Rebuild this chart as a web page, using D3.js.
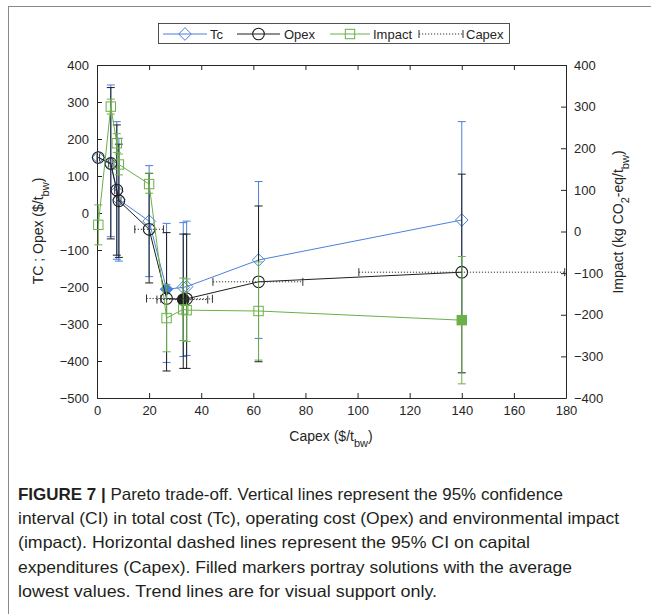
<!DOCTYPE html>
<html>
<head>
<meta charset="utf-8">
<script src="https://cdn.jsdelivr.net/npm/d3@7/dist/d3.min.js"></script>
<style>
  html, body { margin: 0; padding: 0; background: #fff; }
  svg { display: block; }
  text { font-family: "Liberation Sans", Arial, Helvetica, sans-serif; }
</style>
</head>
<body>
<svg id="fig" width="651" height="614"></svg>
<script>
// Pareto solutions, ordered by capital expenditure ($/t_bw)
const capex   = [0.5, 5.3, 7.6, 8.4, 20, 26.7, 33.1, 34.4, 62, 140];
const capexLo = [0, 4.5, 6.8, 7.6, 14.5, 19, 23, 24.5, 44.5, 100.5];
const capexHi = [1, 6.1, 8.4, 9.2, 25.5, 34.4, 42.5, 44.3, 79, 179.5];

// Total cost and its 95% CI ($/t_bw)
const tc   = [150, 132, 58, 36, -22, -206, -201, -199, -127, -19];
const tcLo = [null, -64, -125, -130, -172, -404, -388, -385, -339, -300];
const tcHi = [null, 346, 247, 202, 128, -28, -26, -22, 85, 247];

// Operating cost and its 95% CI ($/t_bw)
const opex   = [150, 134, 62, 33, -44, -231, -234, -232, -186, -160];
const opexLo = [null, -70, -114, -120, -189, -427, -420, -420, -402, -432];
const opexHi = [null, 339, 238, 186, 107, -53, -57, -57, 19, 105];

// Environmental impact and its 95% CI (kg CO2-eq/t_bw)
const impact   = [16, 300, 212, 161, 114, -208, -187, -189, -191, -213];
const impactLo = [-32, 282, 190, 136, 92, -289, -262, -264, -309, -366];
const impactHi = [64, 318, 235, 186, 140, -127, -112, -114, -73, -60];

// Solutions with the lowest average value of each objective
const bestTc = 5, bestOpex = 6, bestImpact = 9;

const xTicks = [0, 20, 40, 60, 80, 100, 120, 140, 160, 180];
const yLeftTicks = [400, 300, 200, 100, 0, -100, -200, -300, -400, -500];
const yRightTicks = [400, 300, 200, 100, 0, -100, -200, -300, -400];

const captionLines = [
  ["FIGURE 7 |", " Pareto trade-off. Vertical lines represent the 95% confidence"],
  ["", "interval (CI) in total cost (Tc), operating cost (Opex) and environmental impact"],
  ["", "(impact). Horizontal dashed lines represent the 95% CI on capital"],
  ["", "expenditures (Capex). Filled markers portray solutions with the average"],
  ["", "lowest values. Trend lines are for visual support only."]
];

const BLUE = "#4a80dc", BLACK = "#1e1e1e", GREEN = "#6bb048", AXIS = "#262626";

const svg = d3.select("#fig");

// outer frame
svg.append("rect").attr("x", 8.5).attr("y", 6.5).attr("width", 700).attr("height", 700)
  .attr("fill", "none").attr("stroke", "#8a8a8a").attr("stroke-width", 1);

const x = d3.scaleLinear().domain([0, 180]).range([97, 566]);
const yL = d3.scaleLinear().domain([-500, 400]).range([398, 65]);
const yR = d3.scaleLinear().domain([-400, 400]).range([398, 65]);

// axes (ticks pointing inward, boxed)
function styleAxis(g) {
  g.selectAll("path").attr("stroke", AXIS);
  g.selectAll("line").attr("stroke", AXIS);
  g.selectAll("text").attr("fill", AXIS).style("font-size", "13px")
    .style("font-family", "'Liberation Sans', Arial, sans-serif");
}
svg.append("g").attr("transform", "translate(0,398)")
  .call(d3.axisBottom(x).tickValues(xTicks).tickSizeInner(-5).tickSizeOuter(0).tickPadding(8))
  .call(styleAxis);
svg.append("g").attr("transform", "translate(0,65)")
  .call(d3.axisTop(x).tickValues(xTicks).tickSizeInner(-5).tickSizeOuter(0).tickFormat(""))
  .call(styleAxis);
svg.append("g").attr("transform", "translate(97,0)")
  .call(d3.axisLeft(yL).tickValues(yLeftTicks).tickSizeInner(-5).tickSizeOuter(0).tickPadding(8))
  .call(styleAxis);
svg.append("g").attr("transform", "translate(566,0)")
  .call(d3.axisRight(yR).tickValues(yRightTicks).tickSizeInner(-5).tickSizeOuter(0).tickPadding(8))
  .call(styleAxis);

// axis titles with subscripts
function title(g, parts) {
  parts.forEach(([t, sub]) => {
    const ts = g.append("tspan").text(t);
    if (sub) ts.attr("baseline-shift", "sub").style("font-size", "11px");
  });
}
const xt = svg.append("text").attr("x", 331).attr("y", 441).attr("text-anchor", "middle")
  .style("font-size", "14px").attr("fill", AXIS);
title(xt, [["Capex ($/t"], ["bw", true], [")"]]);

const ylt = svg.append("text").attr("transform", "translate(43,231) rotate(-90)")
  .attr("text-anchor", "middle").style("font-size", "14px").attr("fill", AXIS);
title(ylt, [["TC ; Opex ($/t"], ["bw", true], [")"]]);

const yrt = svg.append("text").attr("transform", "translate(623,222) rotate(-90)")
  .attr("text-anchor", "middle").style("font-size", "14px").attr("fill", AXIS);
title(yrt, [["Impact (kg CO"], ["2", true], ["-eq/t"], ["bw", true], [")"]]);

// markers
const diamond = (cx, cy, r) => `M${cx},${cy - r}L${cx + r},${cy}L${cx},${cy + r}L${cx - r},${cy}Z`;
function marker(g, type, cx, cy, color, filled) {
  if (type === "diamond") {
    g.append("path").attr("d", diamond(cx, cy, 6.3))
      .attr("fill", filled ? color : "none").attr("stroke", color).attr("stroke-width", 1);
  } else if (type === "circle") {
    g.append("circle").attr("cx", cx).attr("cy", cy).attr("r", 5.8)
      .attr("fill", filled ? color : "none").attr("stroke", color).attr("stroke-width", 1.1);
  } else {
    g.append("rect").attr("x", cx - 4.7).attr("y", cy - 4.7).attr("width", 9.4).attr("height", 9.4)
      .attr("fill", filled ? color : "none").attr("stroke", color).attr("stroke-width", 1);
  }
}

function series(vals, lo, hi, yScale, color, type, best) {
  const g = svg.append("g");
  const pts = capex.map((c, i) => [x(c), yScale(vals[i])]);
  g.append("path").attr("d", d3.line()(pts)).attr("fill", "none")
    .attr("stroke", color).attr("stroke-width", 1);
  capex.forEach((c, i) => {
    if (lo[i] === null) return;
    const cx = x(c), y0 = yScale(lo[i]), y1 = yScale(hi[i]);
    g.append("line").attr("x1", cx).attr("x2", cx).attr("y1", y0).attr("y2", y1)
      .attr("stroke", color).attr("stroke-width", 1);
    [y0, y1].forEach(yy => g.append("line").attr("x1", cx - 4).attr("x2", cx + 4)
      .attr("y1", yy).attr("y2", yy).attr("stroke", color).attr("stroke-width", 1));
  });
  pts.forEach(([px, py], i) => marker(g, type, px, py, color, i === best));
}

series(tc, tcLo, tcHi, yL, BLUE, "diamond", bestTc);
series(opex, opexLo, opexHi, yL, BLACK, "circle", bestOpex);
series(impact, impactLo, impactHi, yR, GREEN, "square", bestImpact);

// capex 95% CI, drawn at the Opex level of each solution
const cg = svg.append("g");
capex.forEach((c, i) => {
  const py = yL(opex[i]), a = x(capexLo[i]), b = x(capexHi[i]);
  cg.append("line").attr("x1", a).attr("x2", b).attr("y1", py).attr("y2", py)
    .attr("stroke", "#333").attr("stroke-width", 1).attr("stroke-dasharray", "1.2,1.8");
  [a, b].forEach(xx => cg.append("line").attr("x1", xx).attr("x2", xx)
    .attr("y1", py - 4).attr("y2", py + 4).attr("stroke", "#333").attr("stroke-width", 1));
});

// legend
const lg = svg.append("g");
lg.append("rect").attr("x", 158.5).attr("y", 23.5).attr("width", 351).attr("height", 20)
  .attr("fill", "#fff").attr("stroke", AXIS).attr("stroke-width", 0.8);
const ly = 34;
const legendItems = [
  { name: "Tc", color: BLUE, type: "diamond", x0: 163, x1: 207, tx: 210 },
  { name: "Opex", color: BLACK, type: "circle", x0: 237, x1: 280, tx: 284 },
  { name: "Impact", color: GREEN, type: "square", x0: 330, x1: 370, tx: 373 }
];
legendItems.forEach(d => {
  lg.append("line").attr("x1", d.x0).attr("x2", d.x1).attr("y1", ly).attr("y2", ly)
    .attr("stroke", d.color).attr("stroke-width", 1);
  marker(lg, d.type, (d.x0 + d.x1) / 2, ly, d.color, false);
  lg.append("text").attr("x", d.tx).attr("y", ly + 5).text(d.name)
    .style("font-size", "13px").attr("fill", AXIS);
});
lg.append("line").attr("x1", 419).attr("x2", 463).attr("y1", ly).attr("y2", ly)
  .attr("stroke", "#333").attr("stroke-dasharray", "1.2,1.8");
[419, 463].forEach(xx => lg.append("line").attr("x1", xx).attr("x2", xx)
  .attr("y1", ly - 4).attr("y2", ly + 4).attr("stroke", "#333"));
lg.append("text").attr("x", 466).attr("y", ly + 5).text("Capex")
  .style("font-size", "13px").attr("fill", AXIS);

// caption, set in a condensed measure
const lineWidths = [545, 601, 512, 554, 419];
captionLines.forEach((parts, i) => {
  const t = svg.append("text").attr("x", 18).attr("y", 500 + i * 24.2)
    .attr("textLength", lineWidths[i]).attr("lengthAdjust", "spacingAndGlyphs")
    .style("font-size", "16.5px").attr("fill", "#231f20")
    .style("font-family", "'Liberation Sans Narrow', 'Liberation Sans', Arial, sans-serif");
  if (parts[0]) t.append("tspan").style("font-weight", "bold").text(parts[0]);
  t.append("tspan").text(parts[1]);
});
</script>
</body>
</html>
